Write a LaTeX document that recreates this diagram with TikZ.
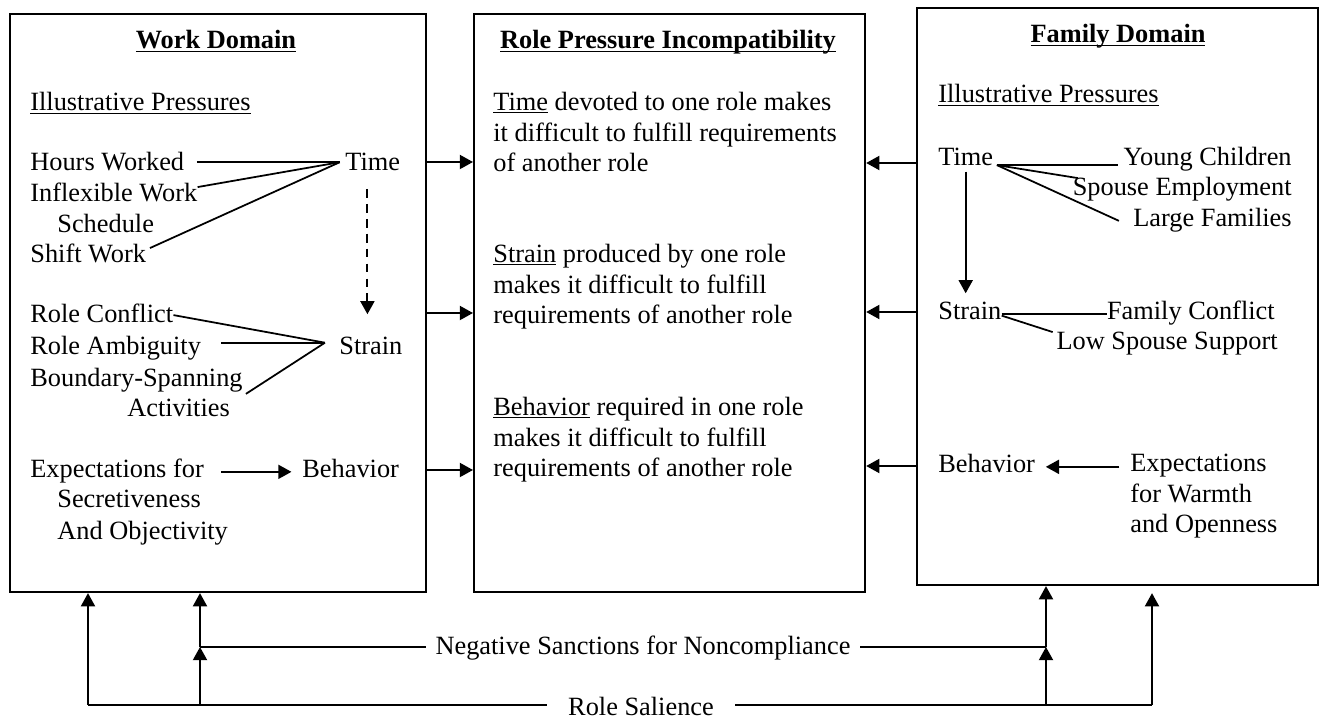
\documentclass[tikz,border=0pt]{standalone}
\usepackage{fontspec}
\setmainfont{Liberation Serif}
\usetikzlibrary{arrows.meta}
\newcommand{\undl}[1]{\underline{\smash{#1}}}

\begin{document}
\begin{tikzpicture}[x=0.02cm,y=-0.02cm]
\tikzset{box/.style = {draw,line width=1.3pt,anchor=north west}}
\tikzset{fnt/.style = {inner sep=0pt,font=\fontsize{15pt}{17.6pt}\selectfont}}
\tikzset{txt/.style = {fnt,anchor=base west,text height=10pt,text depth=3pt}}
\tikzset{txtr/.style = {txt,anchor=base east}}
\tikzset{head/.style = {txt,anchor=base,font=\fontsize{15pt}{17.6pt}\selectfont\bfseries}}
\tikzset{para/.style = {fnt,anchor=base west,align=left}}
\tikzset{line/.style = {line width=1pt}}
\tikzset{edge/.style = {line,-{Triangle[length=7.5pt,width=8pt]}}}
\useasboundingbox (0,0) rectangle (1320,719);
% boxes
\node[box,minimum width=8.32cm,minimum height=11.56cm] (work) at (9,13) {};
\node[box,minimum width=7.82cm,minimum height=11.56cm] (mid) at (473,13) {};
\node[box,minimum width=8.02cm,minimum height=11.54cm] (fam) at (916,7) {};
% work domain
\node[head] (wtitle) at (216,49) {\undl{Work Domain}};
\node[txt] (wip) at (30,111) {\undl{Illustrative Pressures}};
\node[txt] (hours) at (30,171) {Hours Worked};
\node[txt] (inflex) at (30,202) {Inflexible Work};
\node[txt] (sched) at (57,233) {Schedule};
\node[txt] (shift) at (30,263) {Shift Work};
\node[txt] (wtime) at (345,171) {Time};
\node[txt] (rconf) at (30,323) {Role Conflict};
\node[txt] (ramb) at (30,355) {Role Ambiguity};
\node[txt] (bspan) at (30,387) {Boundary-Spanning};
\node[txt] (activ) at (127,417) {Activities};
\node[txt] (wstrain) at (339,355) {Strain};
\node[txt] (wexp) at (30,478) {Expectations for};
\node[txt] (secr) at (57,508) {Secretiveness};
\node[txt] (objec) at (57,540) {And Objectivity};
\node[txt] (wbeh) at (302,478) {Behavior};
% role pressure incompatibility
\node[head] (mtitle) at (668,49) {\undl{Role Pressure Incompatibility}};
\node[para] (mtime) at (493,172) {\undl{Time} devoted to one role makes\\ it difficult to fulfill requirements\\ of another role};
\node[para] (mstrain) at (493,324) {\undl{Strain} produced by one role\\ makes it difficult to fulfill\\ requirements of another role};
\node[para] (mbeh) at (493,477) {\undl{Behavior} required in one role\\ makes it difficult to fulfill\\ requirements of another role};
% family domain
\node[head] (ftitle) at (1118,43) {\undl{Family Domain}};
\node[txt] (fip) at (938,103) {\undl{Illustrative Pressures}};
\node[txt] (ftime) at (938,166) {Time};
\node[txtr] (young) at (1292,166) {Young Children};
\node[txtr] (spouse) at (1292,196) {Spouse Employment};
\node[txtr] (large) at (1292,227) {Large Families};
\node[txt] (fstrain) at (938,320) {Strain};
\node[txtr] (fconf) at (1275,320) {Family Conflict};
\node[txtr] (lowsup) at (1278,350) {Low Spouse Support};
\node[txt] (fbeh) at (938,473) {Behavior};
\node[para] (fexp) at (1130,533) {Expectations\\ for Warmth\\ and Openness};
% bottom labels
\node[txt,anchor=base] (neg) at (643,655) {Negative Sanctions for Noncompliance};
\node[txt,anchor=base] (sal) at (641,716) {Role Salience};
\coordinate (s1) at (88,705);
\coordinate (s2) at (200,705);
\coordinate (s3) at (1046,705);
\coordinate (s4) at (1152,705);
\coordinate (n1) at (200,647);
\coordinate (n2) at (1046,647);
% work links
\coordinate (tjoin) at ([xshift=-3pt,yshift=1.5pt]wtime.west);
\draw[line] ([xshift=7pt,yshift=1.5pt]hours.east) -- (tjoin);
\draw[line] ([yshift=5pt]inflex.east) -- (tjoin);
\draw[line] ([xshift=2pt,yshift=5pt]shift.east) -- (tjoin);
\coordinate (sjoin) at ([xshift=-8pt,yshift=3.5pt]wstrain.west);
\draw[line] ([yshift=1pt]rconf.east) -- (sjoin);
\draw[line] ([xshift=11.5pt,yshift=3.5pt]ramb.east) -- (sjoin);
\draw[line] ([xshift=1.7pt,yshift=-7.4pt]bspan.east) -- (sjoin);
\coordinate (tdrop) at ([xshift=-3pt,yshift=-7pt]wtime.south);
\draw[edge,dash pattern=on 5pt off 3.5pt,line width=1.2pt,shorten >=13pt] (tdrop) -- (tdrop |- wstrain.north);
\draw[edge] ([xshift=9.6pt]wexp.east) -- ([xshift=-6pt]wbeh.west);
% family links
\coordinate (fjoin) at ([xshift=2pt,yshift=-3pt]ftime.east);
\draw[line] (fjoin) -- ([xshift=-3pt,yshift=-3pt]young.west);
\draw[line] (fjoin) -- ([xshift=3pt]spouse.north west);
\draw[line] (fjoin) -- ([xshift=-8pt]large.west);
\draw[edge,shorten >=5pt] (ftime.south) -- (ftime.south |- fstrain.north);
\draw[line] (fstrain.east) -- (fconf.west);
\draw[line] ([yshift=-1pt]fstrain.east) -- ([xshift=-2pt]lowsup.north west);
\coordinate (fexpin) at (fexp.west |- fbeh.east);
\draw[edge] ([xshift=-6pt]fexpin) -- ([xshift=6pt]fbeh.east);
% into the middle box
\foreach \y in {162,313,470} \draw[edge] (work.east |- 0,\y) -- (mid.west |- 0,\y);
\foreach \y in {163,312,466} \draw[edge] (fam.west |- 0,\y) -- (mid.east |- 0,\y);
% sanctions and salience
\draw[edge] (s1) -- (s1 |- work.south);
\draw[edge] (s2) -- (n1);
\draw[edge] (n1) -- (n1 |- work.south);
\draw[edge] (s3) -- (n2);
\draw[edge] (n2) -- (n2 |- fam.south);
\draw[edge,shorten >=4pt] (s4) -- (s4 |- fam.south);
\draw[line,shorten >=5.5pt] (n1) -- (n1 -| neg.west);
\draw[line,shorten >=5.5pt] (n2) -- (n2 -| neg.east);
\draw[line,shorten >=12pt] (s1) -- (s1 -| sal.west);
\draw[line,shorten >=12pt] (s4) -- (s4 -| sal.east);
\end{tikzpicture}
\end{document}
